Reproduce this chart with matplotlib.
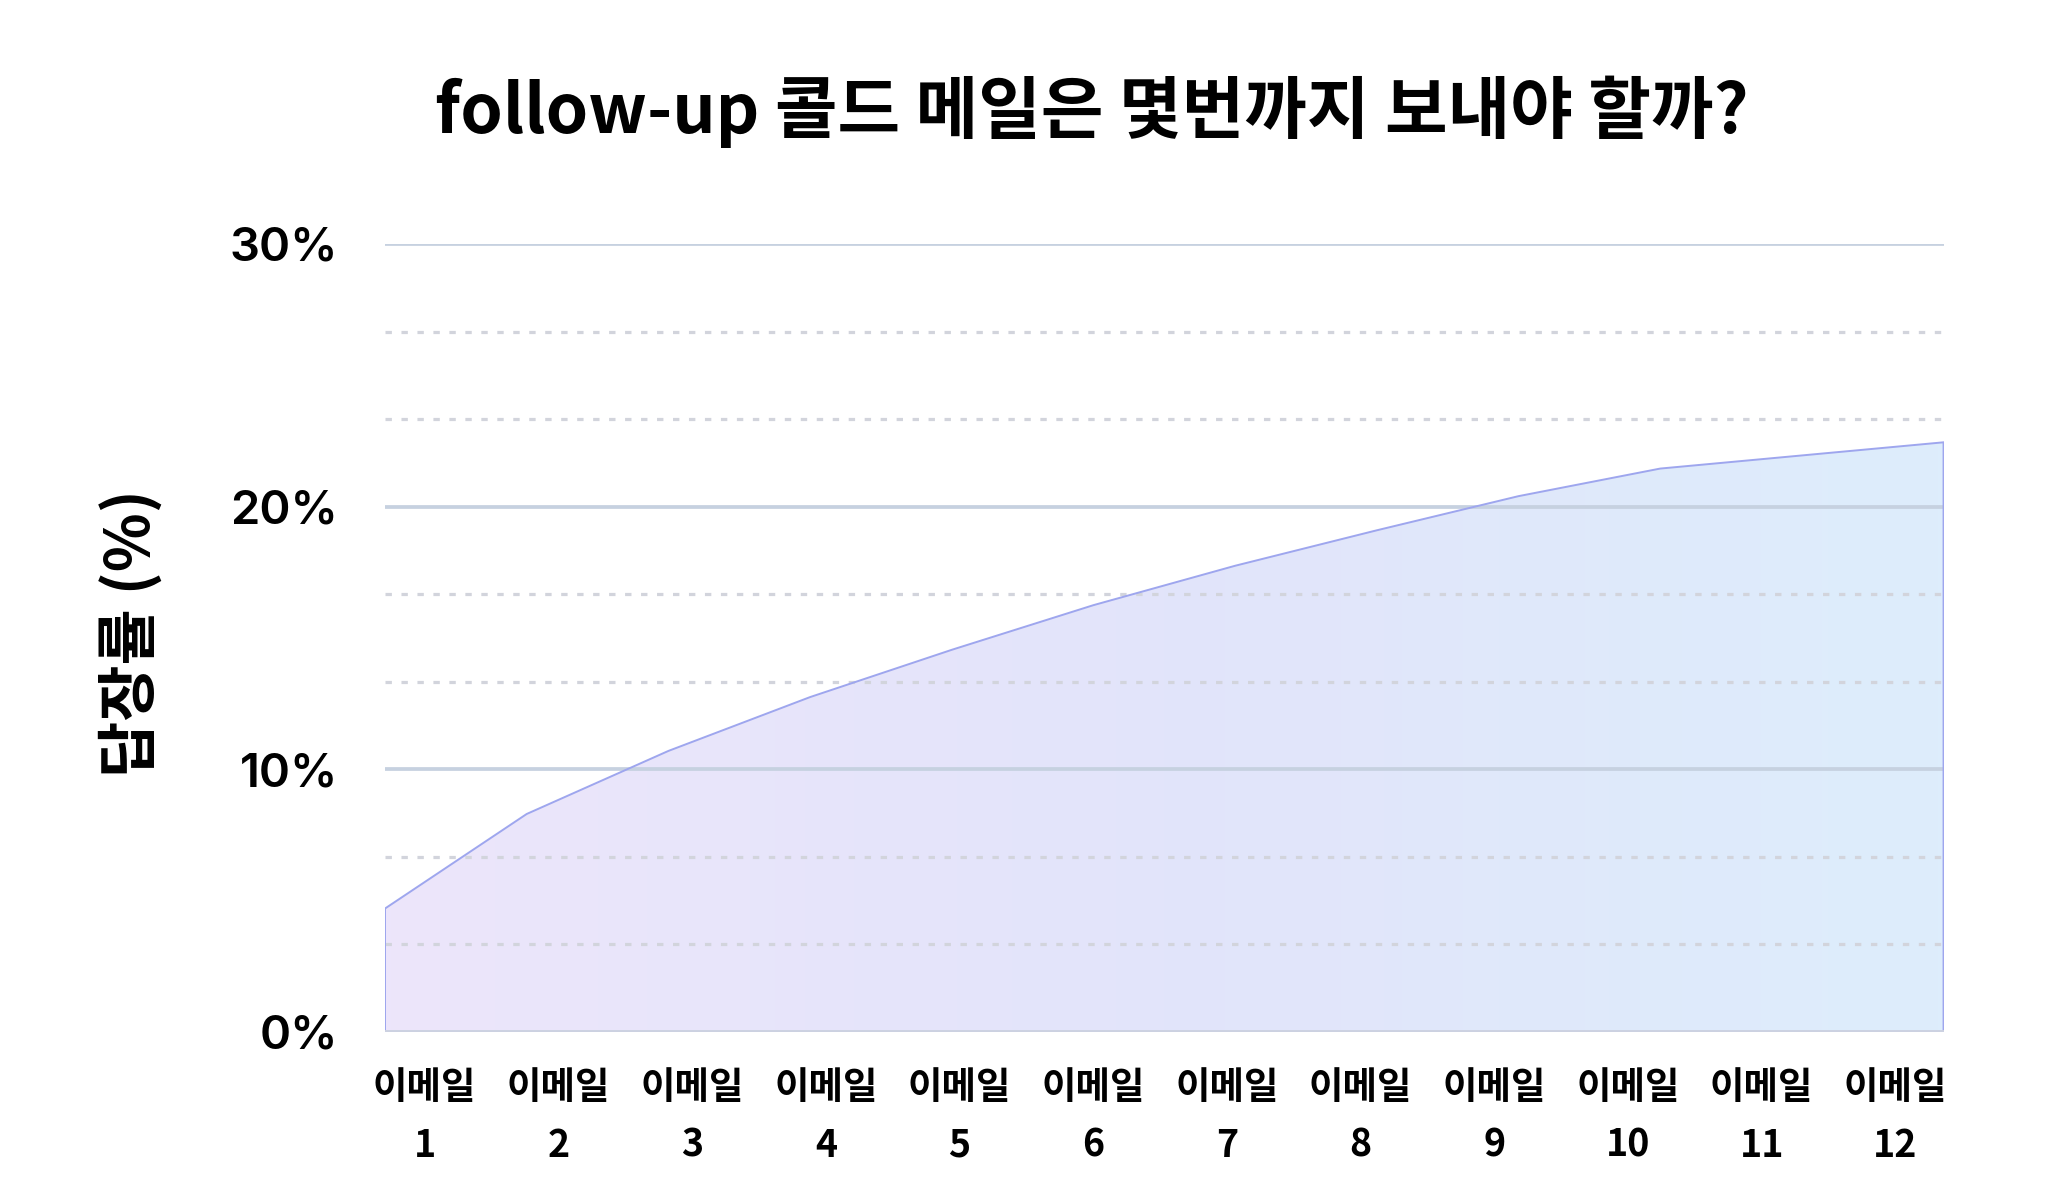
import numpy as np
import matplotlib
matplotlib.use('Agg')
import matplotlib.pyplot as plt
from matplotlib.colors import LinearSegmentedColormap
from matplotlib.patches import Polygon

# 데이터
emails = list(range(1, 13))
reply_rate = [4.7, 8.3, 10.7, 12.75, 14.55, 16.25, 17.75, 19.1, 20.4, 21.45, 21.95, 22.45]
y_ticks = [0, 10, 20, 30]
y_tick_labels = ['0%', '10%', '20%', '30%']
x_labels = [f'이메일\n{n}' for n in emails]

title = 'follow-up 콜드 메일은 몇번까지 보내야 할까?'
y_title = '답장률 (%)'

kr = ['Noto Sans CJK KR', 'DejaVu Sans']

fig = plt.figure(figsize=(20.48, 11.99), dpi=100)
ax = fig.add_axes([0.188, 0.1393, 0.761, 0.6572])

x = np.arange(len(reply_rate))
ax.set_xlim(x[0], x[-1])
ax.set_ylim(0, 30)

# 그라데이션 영역
cmap = LinearSegmentedColormap.from_list('g', ['#e5dbfa', '#d6d9f8', '#cfe6fb'])
grad = np.linspace(0, 1, 256)[None, :]
im = ax.imshow(grad, extent=[x[0], x[-1], 0, 30], aspect='auto', cmap=cmap,
               alpha=0.7, zorder=1, origin='lower')
verts = np.column_stack([np.r_[x, x[::-1]], np.r_[reply_rate, np.zeros(len(x))]])
area = Polygon(verts, closed=True, facecolor='none', edgecolor='#9ea6ee', lw=1.4, zorder=4)
ax.add_patch(area)
im.set_clip_path(area)

# 그리드 (실선 10% 간격, 점선 그 사이)
minor = [v for v in np.arange(0, 30, 10 / 3) if round(v, 3) % 10 != 0]
for v in minor:
    ax.axhline(v, color='#d2d4dc', lw=2.3, dashes=(2.0, 3.0), zorder=2)
for v in y_ticks[1:]:
    ax.axhline(v, color='#c6d1e0', lw=2.7, zorder=2)

# 기준선
ax.axhline(0, color='#ccd1e1', lw=2.8, zorder=5)

for s in ax.spines.values():
    s.set_visible(False)

ax.set_yticks(y_ticks, labels=y_tick_labels)
ax.tick_params(axis='y', length=0, pad=34, labelsize=34)
for t in ax.get_yticklabels():
    t.set_fontfamily(['Inter', 'DejaVu Sans'])
    t.set_fontweight('semibold')

xt = np.linspace(0.28, 10.66, len(emails))
ax.set_xticks(xt, labels=x_labels)
ax.tick_params(axis='x', length=0, pad=26)
for t in ax.get_xticklabels():
    t.set_fontfamily(kr)
    t.set_fontsize(27)
    t.set_fontweight('bold')
    t.set_linespacing(1.6)

fig.text(0.533, 0.907, title, ha='center', va='center', fontsize=49,
         fontweight='bold', family=kr)
fig.text(0.064, 0.472, y_title, ha='center', va='center', rotation=90,
         fontsize=44, fontweight='bold', family=kr)

fig.savefig('out.png', dpi=100, facecolor='white')
